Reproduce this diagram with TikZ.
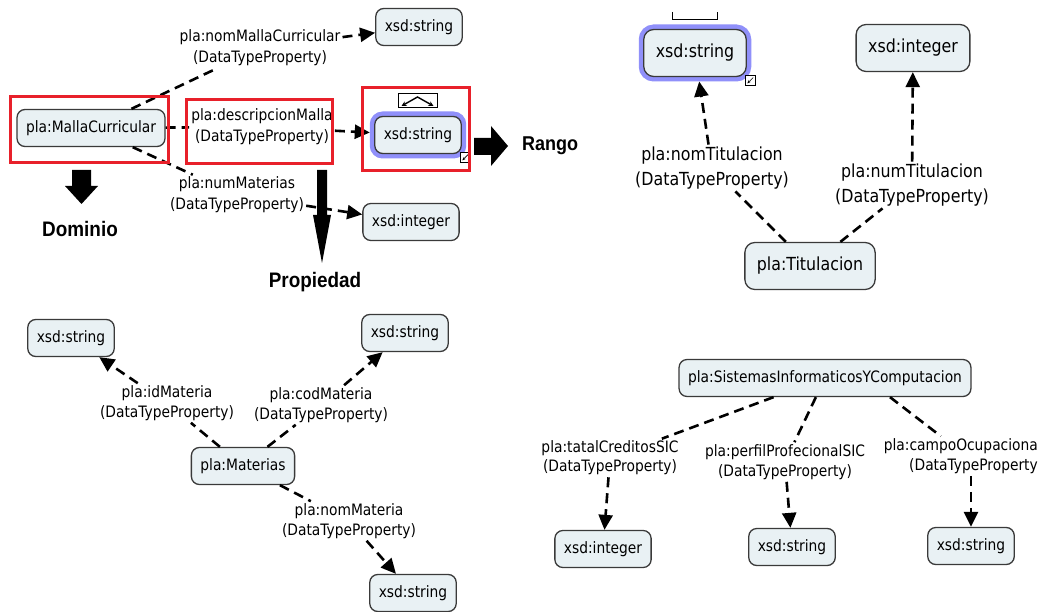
\documentclass[tikz,border=0pt]{standalone}
\usepackage{fontspec}
\setmainfont{DejaVu Sans}[FakeStretch=0.88]
\newfontfamily\tagfont{Liberation Sans}[FakeStretch=0.9]
\usetikzlibrary{arrows.meta}
\definecolor{nodefill}{HTML}{E9F1F4}
\definecolor{nodeline}{HTML}{3A3A3A}
\definecolor{hlred}{HTML}{E8202A}
\definecolor{glowblue}{HTML}{9090FA}
\tikzset{
  concept/.style={draw=nodeline, fill=nodefill, rounded corners=8pt, line width=1.3pt,
    inner xsep=9pt, minimum height=37pt, font=\fontsize{15.7}{18}\selectfont},
  bigconcept/.style={concept, minimum height=47pt, inner xsep=12pt,
    rounded corners=10pt, font=\fontsize{18}{21}\selectfont},
  glow/.style={preaction={draw=glowblue, line width=10pt}, outer sep=5pt},
  rel/.style={align=center, inner sep=2pt, font=\fontsize{15.7}{21}\selectfont},
  bigrel/.style={align=center, inner sep=2pt, font=\fontsize{18}{25}\selectfont},
  dl/.style={line width=2.6pt, dash pattern=on 10pt off 6pt, black},
  ar/.style={dl, -{Triangle[length=15pt,width=14pt]}},
  hlbox/.style={draw=hlred, line width=3pt},
  bigarrow/.style={fill=black},
  tagtext/.style={font=\tagfont\bfseries\fontsize{21}{24}\selectfont, inner sep=0pt},
  iconbox/.style={draw=black, fill=white, line width=0.9pt, minimum size=10pt, inner sep=0pt},
}
\begin{document}
\begin{tikzpicture}[x=1pt, y=-1pt]
\useasboundingbox (0,0) rectangle (1041,612);
\fill[white] (0,0) rectangle (1041,612);

% ---------------- top left ----------------
\node[concept] (mc) at (91,128) {pla:MallaCurricular};
\node[rel] (l1) at (260,48) {pla:nomMallaCurricular\\(DataTypeProperty)};
\node[concept] (s1) at (419,27) {xsd:string};
\node[rel] (l2) at (262,127) {pla:descripcionMalla\\(DataTypeProperty)};
\node[concept, glow] (s2) at (418,135) {xsd:string};
\node[iconbox] (ic1) at ([shift={(-1pt,1pt)}]s2.south east) {};
\draw[line width=0.7pt, -{Stealth[length=3.5pt]}] ([shift={(-2.5pt,-2.5pt)}]ic1.north east) -- ([shift={(2.5pt,2.5pt)}]ic1.south west);
\node[rel] (l3) at (237,195) {pla:numMaterias\\(DataTypeProperty)};
\node[concept] (i1) at (411,222) {xsd:integer};

\draw[dl] (mc) -- (l1);
\draw[ar] (l1) -- (s1);
\draw[dl] (mc) -- (l2);
\draw[ar] (l2) -- (s2);

% Propiedad arrow
\fill[bigarrow] (317,170) -- (327,170) -- (327,215) -- (331,215) -- (322,263) -- (313,215) -- (317,215) -- cycle;
\draw[dl] (mc) -- (l3);
\draw[ar] (l3) -- (i1);

% expander box
\node[draw=black, line width=1pt, minimum width=39pt, minimum height=14pt, inner sep=0pt] (exp) at (417.5,101) {};
\draw[line width=1.4pt, {Stealth[length=5pt,width=5pt]}-{Stealth[length=5pt,width=5pt]}]
  ([shift={(-16pt,-5pt)}]exp.center) -- ([shift={(0pt,4pt)}]exp.center) -- ([shift={(16pt,-5pt)}]exp.center);

% highlight boxes
\draw[hlbox] (10,97) rectangle (168,163);
\draw[hlbox] (186,100) rectangle (332,164);
\draw[hlbox] (362,88) rectangle (469,171);

% big arrows
\fill[bigarrow] (72,170) -- (91,170) -- (91,186) -- (98,186) -- (81.5,204) -- (65,186) -- (72,186) -- cycle;
\fill[bigarrow] (474,138) -- (491,138) -- (491,126) -- (508,146) -- (491,166) -- (491,155) -- (474,155) -- cycle;
\node[tagtext] (dom) at (80,229) {Dominio};
\node[tagtext] (prop) at (315,282) {Propiedad};
\node[tagtext, font=\tagfont\bfseries\fontsize{20}{23}\selectfont] (rango) at (550,146) {Rango};

% ---------------- top right ----------------
\draw[line width=1pt] (672,12) -- (672,20) -- (717,20) -- (717,12);
\node[bigconcept, glow] (s3) at (695,53) {xsd:string};
\node[iconbox] (ic2) at ([shift={(-1pt,1pt)}]s3.south east) {};
\draw[line width=0.7pt, -{Stealth[length=3.5pt]}] ([shift={(-2.5pt,-2.5pt)}]ic2.north east) -- ([shift={(2.5pt,2.5pt)}]ic2.south west);
\node[bigconcept] (i2) at (913,48) {xsd:integer};
\node[bigconcept] (t) at (810,266) {pla:Titulacion};
\node[bigrel] (lt1) at (712,168) {pla:nomTitulacion\\(DataTypeProperty)};
\node[bigrel] (lt2) at (912,185) {pla:numTitulacion\\(DataTypeProperty)};
\draw[dl] (t) -- (lt1);
\draw[ar] (lt1) -- (s3);
\draw[dl] (t) -- (lt2);
\draw[ar] (lt2) -- (i2);

% ---------------- bottom left ----------------
\node[concept] (sb1) at (71,338) {xsd:string};
\node[concept] (sb2) at (405,333) {xsd:string};
\node[concept] (m) at (243,466) {pla:Materias};
\node[concept] (sb3) at (413,593) {xsd:string};
\node[rel, font=\fontsize{15.7}{20}\selectfont] (lm1) at (167,403) {pla:idMateria\\(DataTypeProperty)};
\node[rel, font=\fontsize{15.7}{20}\selectfont] (lm2) at (321,405) {pla:codMateria\\(DataTypeProperty)};
\node[rel, font=\fontsize{15.7}{20}\selectfont] (lm3) at (349,521) {pla:nomMateria\\(DataTypeProperty)};
\draw[dl] (m) -- (lm1);
\draw[ar] (lm1) -- (sb1);
\draw[dl] (m) -- (lm2);
\draw[ar] (lm2) -- (sb2);
\draw[dl] (m) -- (lm3);
\draw[ar] (lm3) -- (sb3);

% ---------------- bottom right ----------------
\node[concept] (sic) at (825,378) {pla:SistemasInformaticosYComputacion};
\node[rel, font=\fontsize{15.7}{19}\selectfont] (ls1) at (610,458) {pla:tatalCreditosSIC\\(DataTypeProperty)};
\node[rel, font=\fontsize{15.7}{20}\selectfont] (ls2) at (785,462) {pla:perfilProfecionalSIC\\(DataTypeProperty)};
\node[rel, font=\fontsize{15.7}{20}\selectfont, align=right, anchor=east] (ls3) at (1040,456) {pla:campoOcupaciona\\(DataTypeProperty};
\node[concept] (i3) at (603,549) {xsd:integer};
\node[concept] (s4) at (792,547) {xsd:string};
\node[concept] (s5) at (971,546) {xsd:string};
\draw[dl] (sic) -- (ls1);
\draw[ar] (ls1) -- (i3);
\draw[dl] (sic) -- (ls2);
\draw[ar] (ls2) -- (s4);
\draw[dl] ([xshift=65pt]sic.south) -- ([xshift=-20pt]ls3.north);
\draw[ar] (ls3.south -| s5.north) -- (s5.north);
\end{tikzpicture}
\end{document}
